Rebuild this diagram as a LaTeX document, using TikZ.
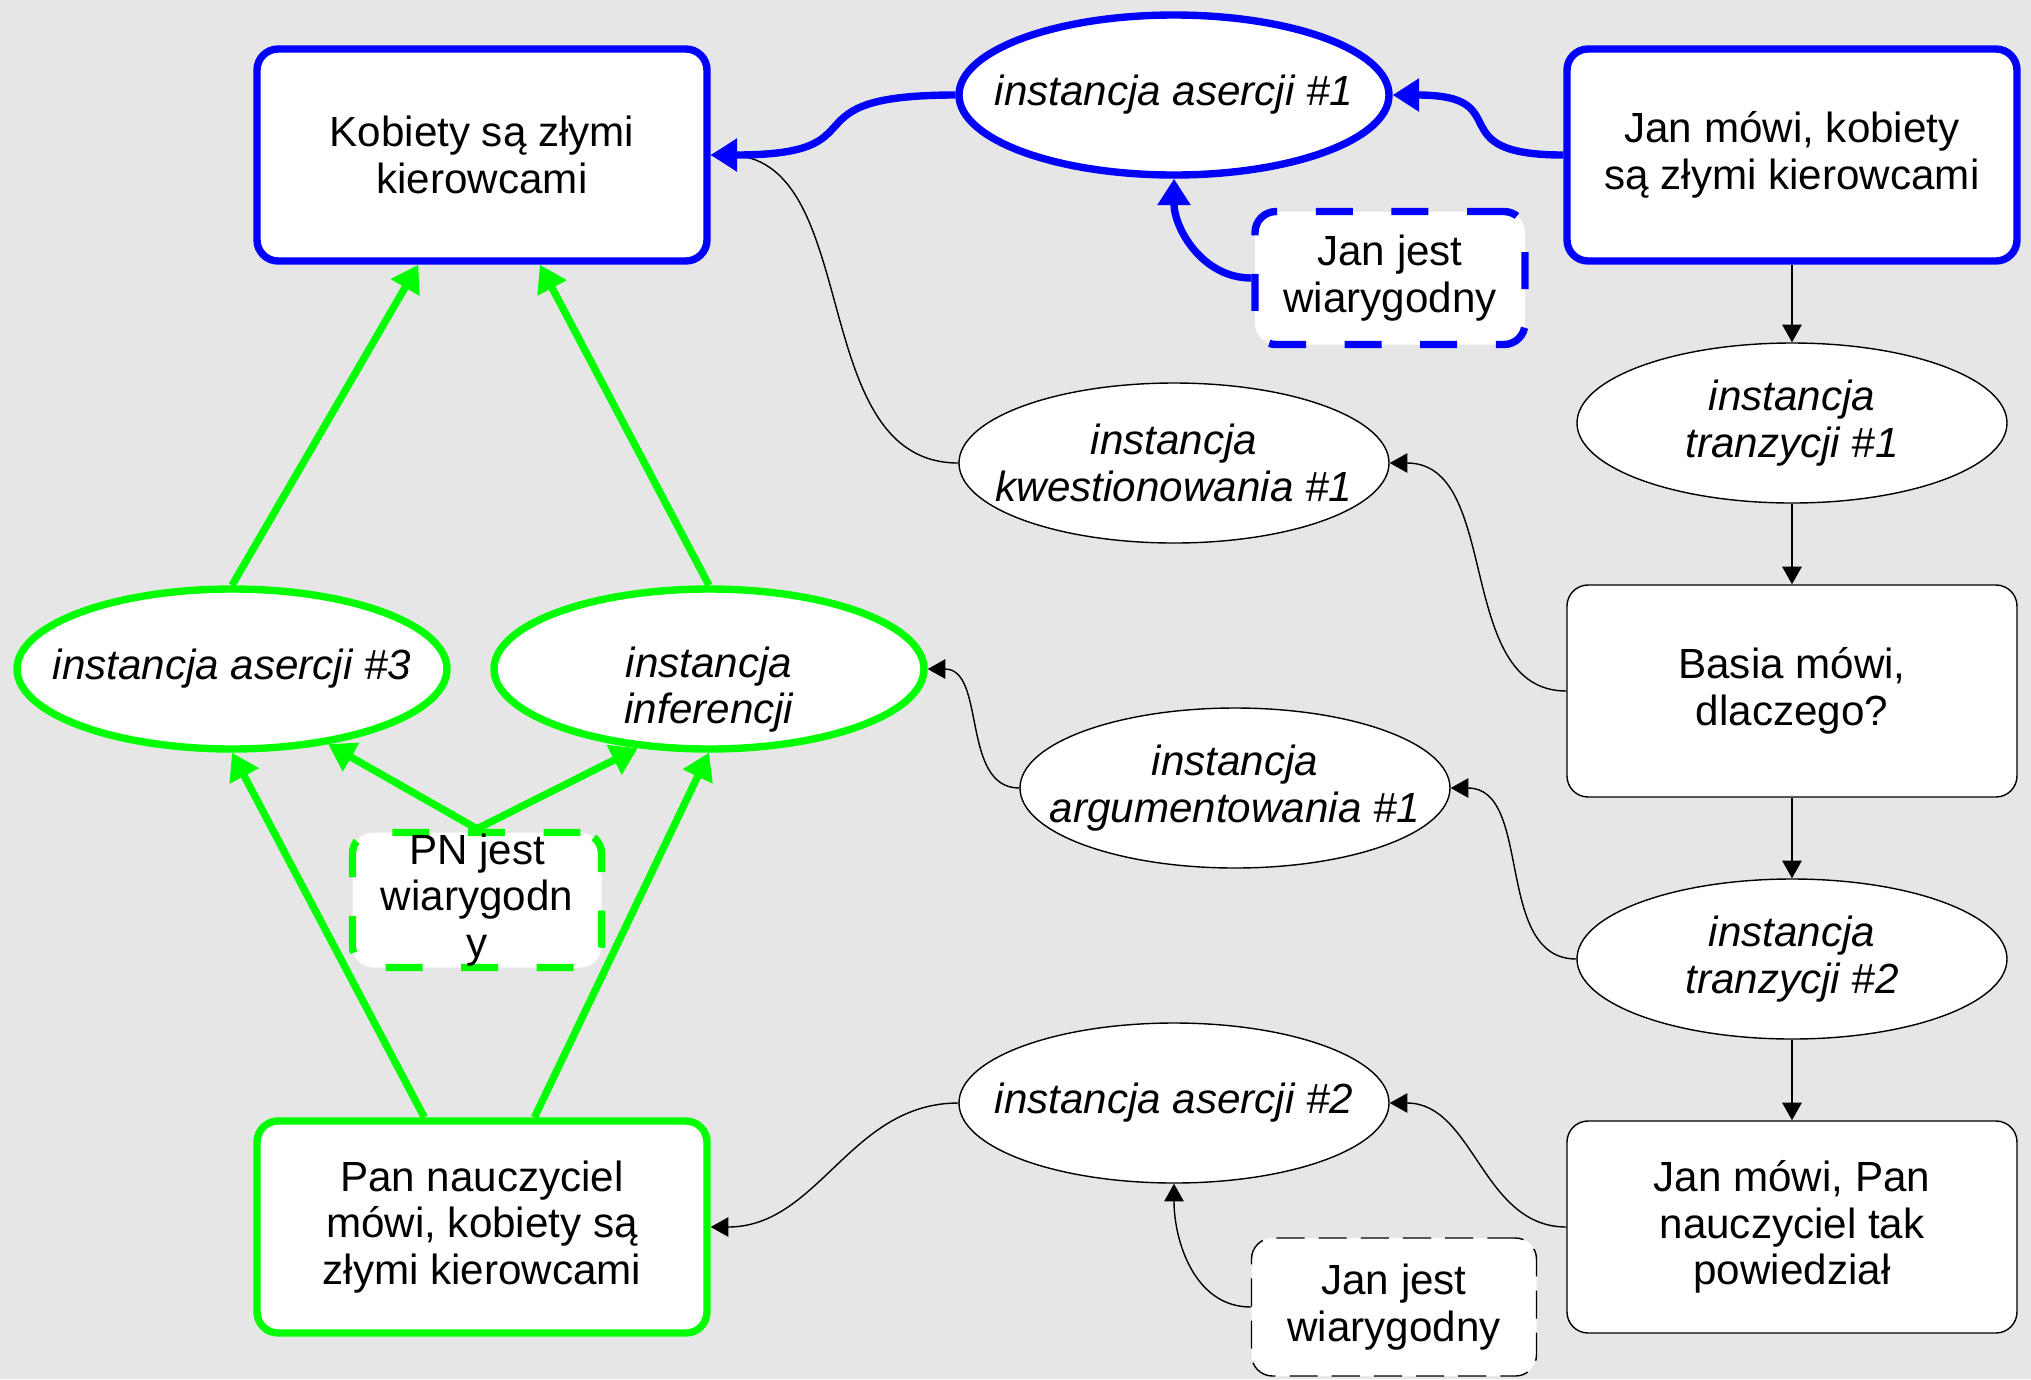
\documentclass[tikz,border=0pt]{standalone}
\usepackage{fontspec}
\setmainfont{Liberation Sans}
\usetikzlibrary{arrows.meta,shapes.geometric}
\definecolor{argInk}{HTML}{000000}
\definecolor{argBlue}{HTML}{0000FF}
\definecolor{argGreen}{HTML}{00FF00}
\definecolor{argBack}{HTML}{E6E6E6}
\tikzset{
  every picture/.style={font=\fontsize{12}{13.2}\selectfont, text=argInk},
  arg box/.style={draw=argInk, line width=0.4pt, rounded corners=6pt,
    fill=white, align=center, minimum width=4.5cm, minimum height=2.12cm},
  arg ellipse/.style={ellipse, draw=argInk, line width=0.4pt, fill=white,
    align=center, font=\fontsize{12}{13.2}\selectfont\itshape,
    minimum width=4.3cm, minimum height=1.6cm, inner xsep=-14pt, inner ysep=0pt},
  arg premise/.style={draw=argInk, line width=0.4pt, dash pattern=on 8pt off 4pt,
    rounded corners=6pt, fill=white, align=center, minimum height=1.38cm},
  arg blue/.style={draw=argBlue, line width=2.1pt},
  arg green/.style={draw=argGreen, line width=2.1pt},
  arg thick dash/.style={dash pattern=on 10.5pt off 11pt},
  arg arrow/.style={-{Triangle[length=5pt,width=5.5pt]}, draw=argInk, line width=0.4pt},
  arg blue arrow/.style={-{Triangle[length=7.5pt,width=9pt]}, draw=argBlue, line width=2.1pt},
  arg green arrow/.style={-{Triangle[length=7.5pt,width=9pt]}, draw=argGreen, line width=2.1pt}
}
\begin{document}
\begin{tikzpicture}[x=1cm,y=1cm]
  \path[use as bounding box, fill=argBack] (0,0) rectangle (20.31,-13.79);
  \node[arg box, arg blue] (claim) at (4.82,-1.55) {Kobiety są złymi\\kierowcami};
  \node[arg ellipse, arg blue] (assert1) at (11.74,-0.95) {instancja asercji \#1};
  \node[arg box, arg blue] (janSays) at (17.92,-1.55) {Jan mówi, kobiety\\są złymi kierowcami};
  \node[arg premise, arg blue, arg thick dash, minimum width=2.7cm, minimum height=1.33cm]
    (janOk) at (13.90,-2.78) {Jan jest\\wiarygodny};
  \node[arg ellipse] (trans1) at (17.92,-4.23) {instancja\\tranzycji \#1};
  \node[arg ellipse] (quest1) at (11.74,-4.63) {instancja\\kwestionowania \#1};
  \node[arg box] (basia) at (17.92,-6.91) {Basia mówi,\\dlaczego?};
  \node[arg ellipse, arg green] (assert3) at (2.32,-6.69) {instancja asercji \#3};
  \node[arg ellipse, arg green] (infer) at (7.09,-6.69)
    {\raisebox{-0.33cm}[0.2cm][0.2cm]{\begin{tabular}{@{}c@{}}instancja\\inferencji\end{tabular}}};
  \node[arg ellipse] (argue1) at (12.35,-7.88) {instancja\\argumentowania \#1};
  \node[arg premise, arg green, arg thick dash, minimum width=2.49cm, minimum height=1.35cm,
    inner ysep=0pt] (pnOk) at (4.77,-9.0) {PN jest\\wiarygodn\\y};
  \node[arg ellipse] (trans2) at (17.92,-9.59) {instancja\\tranzycji \#2};
  \node[arg ellipse] (assert2) at (11.74,-11.03) {instancja asercji \#2};
  \node[arg box, arg green] (teacher) at (4.82,-12.27) {Pan nauczyciel\\mówi, kobiety są\\złymi kierowcami};
  \node[arg box] (janTeacher) at (17.92,-12.27) {Jan mówi, Pan\\nauczyciel tak\\powiedział};
  \node[arg premise, minimum width=2.85cm] (janOk2) at (13.94,-13.07) {Jan jest\\wiarygodny};
  \draw[arg arrow] (janSays) -- (trans1);
  \draw[arg arrow] (trans1) -- (basia);
  \draw[arg arrow] (basia) -- (trans2);
  \draw[arg arrow] (trans2) -- (janTeacher);
  \draw[arg arrow] (basia.west) to[out=180,in=0] (quest1.east);
  \draw[arg arrow] (quest1.west) to[out=180,in=0] (claim.east);
  \draw[arg arrow] (trans2.west) to[out=180,in=0] (argue1.east);
  \draw[arg arrow] (argue1.west) to[out=180,in=0] (infer.east);
  \draw[arg arrow] (janTeacher.west) to[out=180,in=0] (assert2.east);
  \draw[arg arrow] (assert2.west) to[out=180,in=0] (teacher.east);
  \draw[arg arrow] (janOk2.west) to[out=180,in=-90] (assert2.south);
  \draw[arg blue arrow] (janSays.west) to[out=180,in=0,looseness=1.8] (assert1.east);
  \draw[arg blue arrow] (assert1.west) to[out=180,in=0,looseness=1.8] (claim.east);
  \draw[arg blue arrow] (janOk.west) to[out=180,in=-90] (assert1.south);
  \draw[arg green arrow] (assert3.north) -- (claim);
  \draw[arg green arrow] (infer.north) -- (claim);
  \draw[arg green arrow] (teacher) -- (assert3.south);
  \draw[arg green arrow] (teacher) -- (infer.south);
  \draw[arg green arrow] (pnOk.north) -- (assert3.-38);
  \draw[arg green arrow] (pnOk.north) -- (infer.-132);
\end{tikzpicture}
\end{document}
